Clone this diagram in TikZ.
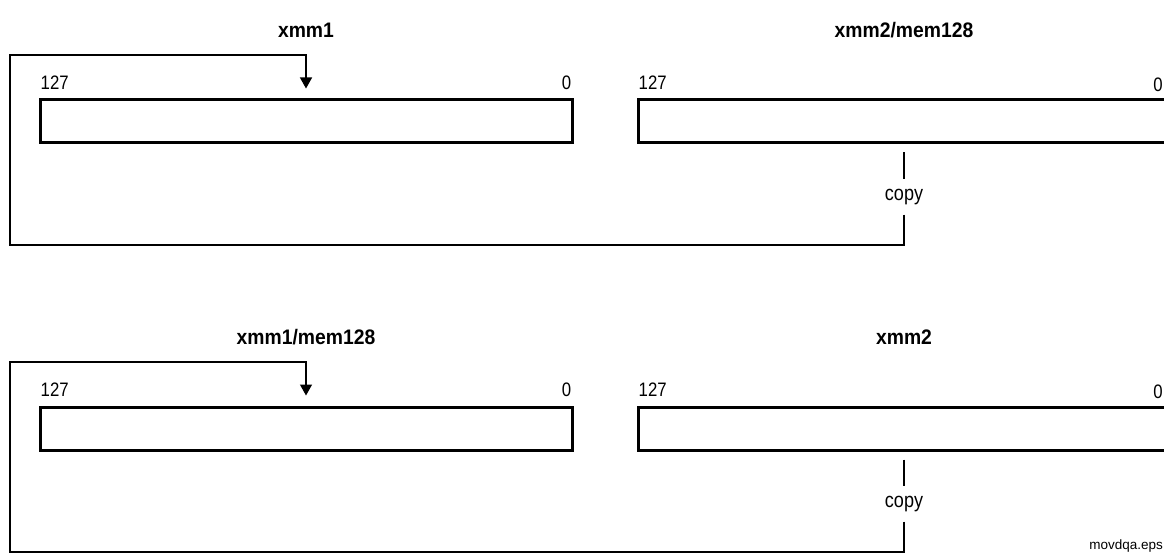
\documentclass[tikz,border=0pt]{standalone}
\usepackage{fontspec}
\setmainfont{Liberation Sans}[FakeStretch=0.86]
\newfontfamily\headfont{Liberation Sans}[FakeStretch=0.92]
\newfontfamily\tagfont{Liberation Sans}
\usepackage{tikz}
\usetikzlibrary{positioning, arrows.meta, calc}
\tikzset{
    regbox/.style={draw, line width=3pt, minimum width=532pt, minimum height=43pt, inner sep=0pt},
    regtitle/.style={font=\headfont\bfseries\fontsize{21}{25}\selectfont, inner sep=0pt},
    bitlabel/.style={font=\fontsize{19.5}{23}\selectfont, inner sep=0pt},
    oplabel/.style={font=\fontsize{21}{25}\selectfont, inner sep=0pt, minimum height=35pt},
    link/.style={line width=1.3pt},
    copyarrow/.style={link, -{Triangle[width=12pt, length=11pt]}}
}

\begin{document}
\begin{tikzpicture}[x=1pt, y=-1pt]
    \useasboundingbox (0,0) rectangle (1164,556);

    % --- Upper form: xmm1 <- xmm2/mem128 ---
    \node[regtitle] (titleA) at (306,30) {xmm1};
    \node[regtitle] (titleB) at (904,30) {xmm2/mem128};

    % Register boxes
    \node[regbox] (xmmA) at (306,121.5) {};
    \node[regbox] (xmmB) at (904,121.5) {};

    % Bit numbers
    \node[bitlabel, anchor=base west] (hiA) at ([xshift=2pt, yshift=9pt]xmmA.north west) {127};
    \node[bitlabel, anchor=base east] (loA) at ([xshift=-2pt, yshift=9pt]xmmA.north east) {0};
    \node[bitlabel, anchor=base west] (hiB) at ([xshift=2pt, yshift=9pt]xmmB.north west) {127};
    \node[bitlabel, anchor=base east] (loB) at (1163,91.5) {0};

    % Copy path back to the destination
    \node[oplabel] (copyA) at (904,197) {copy};
    \coordinate (loopA) at (10,245);
    \coordinate (turnA) at (10,55);
    \draw[link] ([yshift=-8pt]xmmB.south) -- (copyA.north);
    \draw[copyarrow] (copyA.south) |- (loopA) -- (turnA) -| ([yshift=10pt]xmmA.north);

    % --- Lower form: xmm1/mem128 <- xmm2 ---
    \node[regtitle] (titleC) at (306,337) {xmm1/mem128};
    \node[regtitle] (titleD) at (904,337) {xmm2};

    % Register boxes
    \node[regbox] (xmmC) at (306,428.5) {};
    \node[regbox] (xmmD) at (904,428.5) {};

    % Bit numbers
    \node[bitlabel, anchor=base west] (hiC) at ([xshift=2pt, yshift=9pt]xmmC.north west) {127};
    \node[bitlabel, anchor=base east] (loC) at ([xshift=-2pt, yshift=9pt]xmmC.north east) {0};
    \node[bitlabel, anchor=base west] (hiD) at ([xshift=2pt, yshift=9pt]xmmD.north west) {127};
    \node[bitlabel, anchor=base east] (loD) at (1163,398.5) {0};

    % Copy path back to the destination
    \node[oplabel] (copyB) at (904,504) {copy};
    \coordinate (loopB) at (10,552);
    \coordinate (turnB) at (10,362);
    \draw[link] ([yshift=-8pt]xmmD.south) -- (copyB.north);
    \draw[copyarrow] (copyB.south) |- (loopB) -- (turnB) -| ([yshift=10pt]xmmC.north);

    % File tag
    \node[font=\tagfont\fontsize{13.5}{16}\selectfont, anchor=base east, inner sep=0pt] (filetag) at (1163,549) {movdqa.eps};
\end{tikzpicture}
\end{document}
